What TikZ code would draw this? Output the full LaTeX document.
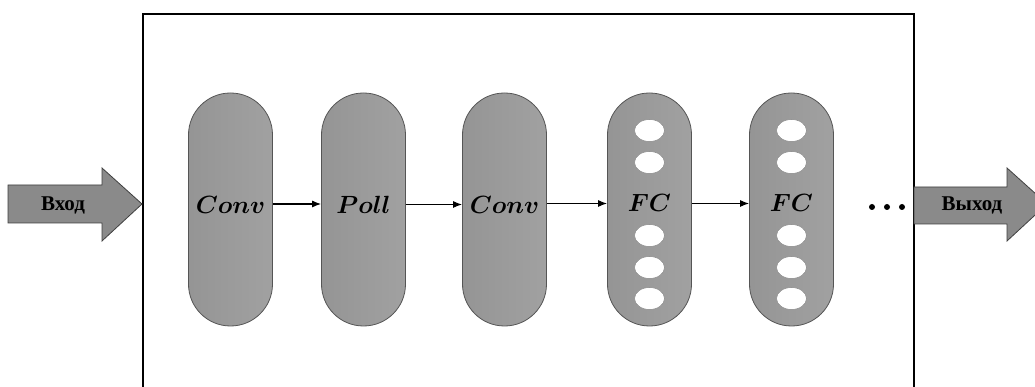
\documentclass[tikz,border=0pt]{standalone}
\usepackage{fontspec}
\setmainfont{Liberation Serif}
\usetikzlibrary{arrows.meta,positioning}
\definecolor{pillgray}{RGB}{155,155,155}
\definecolor{pilledge}{RGB}{85,85,85}
\definecolor{arrowgray}{RGB}{138,138,138}

\begin{document}
\begin{tikzpicture}[x=1pt,y=1pt,
    pill/.style={draw=pilledge,line width=0.8pt,left color=pillgray!96!black,right color=pillgray!94!white,
        rounded corners=41.9pt,minimum width=84pt,minimum height=233pt,inner sep=0pt},
    hole/.style={draw=pilledge!70,fill=white,line width=0.5pt},
    lbl/.style={font=\Huge\boldmath,inner sep=0pt},
    tag/.style={font=\fontsize{21}{24}\selectfont\bfseries,inner sep=0pt},
    bigarrow/.style={draw=black!75,line width=0.8pt,fill=arrowgray},
    link/.style={line width=1.1pt,-{Latex[length=9pt,width=7pt]}}]
        %画布
            \clip (0,0) rectangle (1035,387);
            \fill[white] (0,0) rectangle (1035,387);
        %外框
            \draw [line width=1.6pt] (143,-10) -- (143,373) -- (914,373) -- (914,-10);
        %输入,输出箭头
            \draw [bigarrow] (8,164) -- (8,202) -- (102,202) -- (102,219) -- (142,183) -- (102,146) -- (102,164) -- cycle;
            \node [tag] (vhod) at (63,182) {Вход};
            \draw [bigarrow] (914,163) -- (914,200) -- (1007,200) -- (1007,219) -- (1047,183) -- (1007,146) -- (1007,163) -- cycle;
            \node [tag] (vyhod) at (972,182) {Выход};
        %各层
            \node [pill] (conv1) at (230.5,177.5) {};
            \node [pill] (poll) at (363.5,177.5) {};
            \node [pill] (conv2) at (504.5,177.5) {};
            \node [pill] (fc1) at (649.5,177.5) {};
            \node [pill] (fc2) at (791.5,177.5) {};
            \foreach \p in {fc1,fc2}
                \foreach \dy in {79,47,-26,-58,-89}
                    \draw [hole] ([yshift=\dy pt]\p.center) ellipse (15 and 11);
        %标注
            \node [lbl] (tconv1) at ([yshift=5pt]conv1.center) {$Conv$};
            \node [lbl] (tpoll) at ([yshift=5pt]poll.center) {$Poll$};
            \node [lbl] (tconv2) at ([yshift=5pt]conv2.center) {$Conv$};
            \node [lbl] (tfc1) at ([yshift=7pt]fc1.center) {$FC$};
            \node [lbl] (tfc2) at ([yshift=7pt]fc2.center) {$FC$};
        %连线
            \draw [link] ([yshift=5.5pt]conv1.east) -- ([yshift=5.5pt]poll.west);
            \draw [link] ([yshift=5pt]poll.east) -- ([yshift=5pt]conv2.west);
            \draw [link] ([yshift=6pt]conv2.east) -- ([yshift=6pt]fc1.west);
            \draw [link] ([yshift=6pt]fc1.east) -- ([yshift=6pt]fc2.west);
        %省略号
            \foreach \x in {872,887,902}
                \fill (\x,180) circle (3);
    \end{tikzpicture}
\end{document}
